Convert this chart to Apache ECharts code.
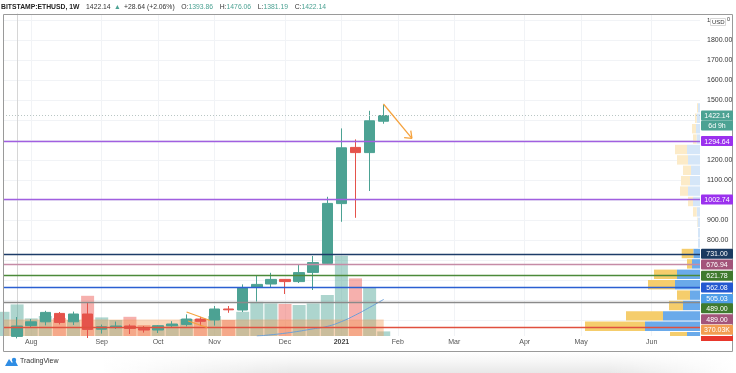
<!DOCTYPE html>
<html><head><meta charset="utf-8">
<script src="https://cdn.jsdelivr.net/npm/echarts@6/dist/echarts.min.js"></script>
<style>html,body{margin:0;padding:0;background:#fff}#c{width:736px;height:373px}</style>
</head><body><div id="c"></div>
<script>
// ---- data (weekly ETH/USD, Bitstamp) ----
const firstWeekIndex = -1; // weeks[0] sits one bar before the first full bar
const weeks = ['2020-07-20','2020-07-27','2020-08-03','2020-08-10','2020-08-17','2020-08-24','2020-08-31',
  '2020-09-07','2020-09-14','2020-09-21','2020-09-28','2020-10-05','2020-10-12','2020-10-19','2020-10-26',
  '2020-11-02','2020-11-09','2020-11-16','2020-11-23','2020-11-30','2020-12-07','2020-12-14','2020-12-21',
  '2020-12-28','2021-01-04','2021-01-11','2021-01-18','2021-01-25'];
const openP  = [236,318,372,391,433,391,430,354,362,370,358,350,371.5,378,405,400,455,450,563,580,603,592,638,683,982,1263,1237,1393.86];
const closeP = [318,370,391,438,388,430,353,366,370,358,350,371.5,380,405,393.5,455,451,562,578,603,592,637,687,983,1261,1237,1396,1422.14];
const lowP   = [232,308,365,373,378,375,310,332,355,330,337,335,364,368,371,372,436,440,492,560,530,585,550,680,891,911,1045,1381.19];
const highP  = [329,415,405,446,440,442,488,377,392,378,370,375,394,428,416,470,470,578,620,636,604,675,720,1016,1358,1303,1446,1476.06];
const volumeK = [121,158,88,100,90,80,201,93,80,96,55,50,55,85,85,100,80,121,171,163,160,155,163,205,401,288,243,23];
const volumeMA = [null,null,null,null,null,null,null,null,null,null,null,null,null,null,null,null,null,null,0,6,14,24,36,48,72,105,143,183];

// x-axis month ticks (bar index of first weekly bar in each month)
const monthTickWeek  = [1,6,10,14,19,23,27,31,36,40,45];
const monthTickLabel = ['Aug','Sep','Oct','Nov','Dec','2021','Feb','Mar','Apr','May','Jun'];
const priceTicks = [800,900,1100,1200,1500,1600,1700,1800];
const gridPrices = [400,500,600,700,800,900,1000,1100,1200,1300,1400,1500,1600,1700,1800,1900];

// horizontal levels
const levelPrice = [1294.64,1002.74,731.00,676.94,621.78,562.08,489.00,366];
const levelColor = ['#a15fe0','#a15fe0','#1d3c68','#c58ba6','#4b8a3a','#2b5fd1','#8a8a8a','#e0503f'];

// tags on the price scale
const tagText  = ['1422.14','6d 9h','1294.64','1002.74','731.00','676.94','621.78','562.08','505.03','489.00','489.00','370.03K'];
const tagPrice = [1422.14,1422.14,1294.64,1002.74,731.00,676.94,621.78,562.08,505.03,489.00,489.00,366];
const tagColor = ['#4ca293','#4ca293','#9b31ee','#9b31ee','#1b3a60','#a3547a','#3f7a2e','#2458d0','#4f9ee8','#3f7a2e','#a3547a','#f29d52'];
const tagShift = [0,10,0,0,0,0,0,0,0,6,17,3];

// volume profile (visible range), price bins of 52
const profileBinSize = 52;
const profilePrice = [316.5,368.5,420.5,472.5,524.5,576.5,628.5,680.5,732.5,784.5,836.5,888.5,940.5,992.5,1044.5,1096.5,1148.5,1200.5,1252.5,1304.5,1356.5,1408.5,1460.5];
const profileUp    = [13,55,37,17,10,25,23,8,6.7,2,2,2.5,3.3,7,12,10,9,12,13,3.5,4,3.3,2];
const profileDown  = [17,60,37,14,13,27,23,5,11.6,0,0,0.5,3.7,5,8,9,8,11,12,3.5,4,1.7,1];
const valueAreaHigh = 758.5;

// ---- chart ----
const UP = '#4ca293', DOWN = '#e5534b';
const xs = weeks.map((w, i) => i + firstWeekIndex);
const candleData = weeks.map((w, i) => [xs[i], openP[i], closeP[i], lowP[i], highP[i]]);
const volData = weeks.map((w, i) => ({
  value: [xs[i], volumeK[i]],
  itemStyle: { color: closeP[i] >= openP[i] ? 'rgba(83,168,152,0.48)' : 'rgba(236,90,84,0.48)' }
}));
const maData = volumeMA.map((v, i) => v == null ? null : [xs[i], v]).filter(d => d);
const ORANGE = '#f5a23d';
const seg = (a, b, w) => [{ coord: a, lineStyle: { color: ORANGE, width: w, type: 'solid' } }, { coord: b }];

const FONT = 'Liberation Sans';
const chart = echarts.init(document.getElementById('c'), null, { renderer: 'canvas' });

const option = {
  animation: false,
  backgroundColor: '#fff',
  textStyle: { fontFamily: FONT },
  grid: { left: 3, top: 14, width: 697, height: 322 },
  xAxis: [{
    type: 'value', min: -1, max: 48.43,
    axisLine: { show: false }, axisTick: { show: false }, splitLine: { show: false },
    axisLabel: {
      customValues: monthTickWeek, margin: 3, fontSize: 7, color: '#555', fontFamily: FONT,
      formatter: v => { const j = monthTickWeek.indexOf(v); const t = monthTickLabel[j]; return /^\d{4}$/.test(t) ? '{y|' + t + '}' : t; },
      rich: { y: { fontWeight: 'bold', fontSize: 7, color: '#444', fontFamily: FONT } }
    }
  }, {
    type: 'value', min: 0, max: 697, inverse: true, show: false
  }],
  yAxis: [{
    type: 'value', position: 'right', min: 320, max: 1930,
    axisLine: { show: true, lineStyle: { color: '#d6d6d6' } },
    axisTick: { show: false }, splitLine: { show: false },
    axisLabel: { customValues: priceTicks, margin: 7, fontSize: 7, color: '#333', fontFamily: FONT, formatter: v => v.toFixed(2) }
  }, {
    type: 'value', min: 0, max: 1610, show: false
  }],
  series: [
    { // grid lines
      type: 'line', data: [], silent: true, z: 0,
      markLine: { z: 0, silent: true, symbol: 'none', label: { show: false }, animation: false,
        lineStyle: { color: '#f1f3f6', width: 1, type: 'solid' },
        data: gridPrices.map(p => ({ yAxis: p })).concat(monthTickWeek.map(k => ({ xAxis: k }))) }
    },
    { type: 'bar', name: 'Volume', xAxisIndex: 0, yAxisIndex: 1, barWidth: 13, data: volData, z: 2, silent: true },
    { // shaded band
      type: 'line', xAxisIndex: 0, yAxisIndex: 0, data: [], z: 3, silent: true,
      markArea: { z: 3, silent: true, itemStyle: { color: 'rgba(244,158,88,0.42)' },
        data: [[{ xAxis: -1, yAxis: 320 }, { xAxis: 26, yAxis: 403 }]] } },
    { type: 'line', xAxisIndex: 0, yAxisIndex: 1, data: maData, symbol: 'none', smooth: true, z: 4,
      lineStyle: { color: '#6a9fd8', width: 1 } },
    { type: 'custom', xAxisIndex: 1, yAxisIndex: 0, z: 4, clip: true, silent: true,
      data: profilePrice.map((p, i) => [profileUp[i] + profileDown[i], p, profileUp[i], profileDown[i]]),
      encode: { x: 0, y: 1 },
      renderItem: (params, api) => {
        const p = api.value(1), up = api.value(2), dn = api.value(3);
        const top = api.coord([0, p + profileBinSize / 2]);
        const bot = api.coord([0, p - profileBinSize / 2]);
        const xUp = api.coord([up, p])[0];
        const xAll = api.coord([up + dn, p])[0];
        const strong = p < valueAreaHigh;
        const h = bot[1] - top[1] - 1;
        return { type: 'group', children: [
          { type: 'rect', shape: { x: xUp, y: top[1] + 0.5, width: top[0] - xUp, height: h }, style: { fill: strong ? '#6aaaea' : '#d5e6f8' } },
          { type: 'rect', shape: { x: xAll, y: top[1] + 0.5, width: xUp - xAll, height: h }, style: { fill: strong ? '#f5cd6c' : '#fcebc8' } }
        ] };
      }
    },
    { type: 'candlestick', name: 'ETHUSD', xAxisIndex: 0, yAxisIndex: 0, barWidth: 11, z: 6,
      data: candleData, encode: { x: 0, y: [1, 2, 3, 4] },
      itemStyle: { color: UP, color0: DOWN, borderColor: UP, borderColor0: DOWN, borderWidth: 1 } },
    { // level lines, price line, drawings
      type: 'line', data: [], z: 7, silent: true,
      markLine: { z: 7, silent: true, symbol: 'none', label: { show: false }, animation: false,
        data: levelPrice.map((p, i) => ({ yAxis: p, lineStyle: { color: levelColor[i], width: 1.3, type: 'solid' } }))
          .concat([{ yAxis: 1422.14, lineStyle: { color: '#b9c6c4', width: 1, type: [1, 2] } }])
          .concat([
            seg([25.98, 1480], [28.0, 1308.5], 1.3),
            seg([28.0, 1308.5], [27.45, 1311.5], 1.3),
            seg([28.0, 1308.5], [27.92, 1346.5], 1.3),
            seg([12.02, 440], [13.69, 397.5], 1.2),
            seg([12.13, 395], [13.48, 362.5], 1.2)
          ]) }
    }
  ]
};
chart.setOption(option);

// ---- overlay graphics: header, frame, price tags, logo ----
const tagEls = [];
tagText.forEach((t, i) => {
  const y = chart.convertToPixel({ yAxisIndex: 0 }, tagPrice[i]) + tagShift[i];
  const w = t.length > 7 ? 34 : 32;
  tagEls.push({ type: 'rect', z: 100, shape: { x: 701, y: y - 5, width: w, height: 10, r: 1 }, style: { fill: tagColor[i] } });
  tagEls.push({ type: 'text', z: 101, x: 701 + w / 2, y: y + 0.5, style: { text: t, fill: '#fff', font: '7px ' + FONT, align: 'center', verticalAlign: 'middle' } });
});
const yBottomTag = chart.convertToPixel({ yAxisIndex: 0 }, 320);
chart.setOption({ graphic: [
  { type: 'rect', z: 1, shape: { x: 100, y: 352, width: 636, height: 21 }, style: {
      fill: new echarts.graphic.LinearGradient(0, 0, 1, 0, [
        { offset: 0, color: 'rgba(0,0,0,0)' }, { offset: 0.3, color: 'rgba(0,0,0,0.09)' },
        { offset: 0.8, color: 'rgba(0,0,0,0.09)' }, { offset: 1, color: 'rgba(0,0,0,0)' }]) } },
  { type: 'rect', z: 2, shape: { x: 100, y: 352, width: 636, height: 21 }, style: {
      fill: new echarts.graphic.LinearGradient(0, 0, 0, 1, [
        { offset: 0, color: 'rgba(255,255,255,1)' }, { offset: 0.45, color: 'rgba(255,255,255,0.6)' }, { offset: 1, color: 'rgba(255,255,255,0)' }]) } },
  { type: 'rect', z: 90, shape: { x: 3.5, y: 14.5, width: 729, height: 337 }, style: { fill: 'none', stroke: '#9a9a9a', lineWidth: 1 } },
  { type: 'rect', z: 99, shape: { x: 701, y: yBottomTag, width: 32, height: 5 }, style: { fill: '#e8372c' } },
  { type: 'text', z: 100, x: 1, y: 1, style: {
      text: '{b|BITSTAMP:ETHUSD, 1W}  {d|1422.14} {g|▲} {d|+28.64 (+2.06%)}  {d|O:}{g|1393.86}  {d|H:}{g|1476.06}  {d|L:}{g|1381.19}  {d|C:}{g|1422.14}',
      rich: {
        b: { fontWeight: 'bold', fontSize: 6.8, fill: '#222', fontFamily: FONT },
        d: { fontSize: 6.8, fill: '#333', fontFamily: FONT },
        g: { fontSize: 6.8, fill: '#4ca293', fontFamily: FONT }
      } } },
  { type: 'text', z: 100, x: 707, y: 17, style: { text: '1', font: '6px ' + FONT, fill: '#333' } },
  { type: 'rect', z: 100, shape: { x: 710.5, y: 18.5, width: 15, height: 7 }, style: { fill: '#fff', stroke: '#ccc', lineWidth: 0.8 } },
  { type: 'text', z: 101, x: 712, y: 19, style: { text: 'USD', font: '6px ' + FONT, fill: '#333' } },
  { type: 'text', z: 100, x: 727, y: 16, style: { text: '0', font: '5.5px ' + FONT, fill: '#333' } },
  { type: 'polygon', z: 100, shape: { points: [[5, 366], [9, 359], [12, 363], [14.5, 359.5], [18, 366]] }, style: { fill: '#2f8de4' } },
  { type: 'circle', z: 100, shape: { cx: 14, cy: 360, r: 2.2 }, style: { fill: '#2f8de4' } },
  { type: 'text', z: 100, x: 20, y: 358, style: { text: 'TradingView', font: '7px ' + FONT, fill: '#333' } }
].concat(tagEls) });
</script>
</body></html>
